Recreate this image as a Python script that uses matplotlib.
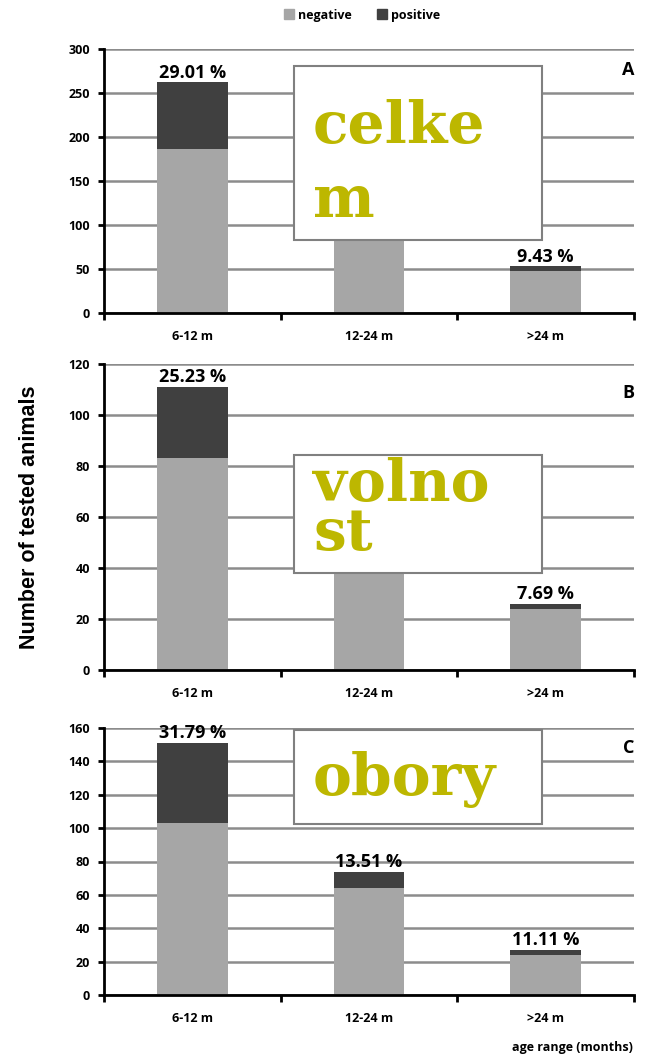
import numpy as np
import matplotlib
matplotlib.use("Agg")
import matplotlib.pyplot as plt
import matplotlib.patches as mpatches

# age classes
categories = ['6-12 m', '12-24 m', '>24 m']

# number of tested animals per panel (negative / positive)
neg_A = [186, 116, 48]
pos_A = [76, 18, 5]
neg_B = [83, 52, 24]
pos_B = [28, 8, 2]
neg_C = [103, 64, 24]
pos_C = [48, 10, 3]

# which percentage labels are visible (others sit under the white box)
show_A = [True, False, True]
show_B = [True, False, True]
show_C = [True, True, True]

panel_names = ['A', 'B', 'C']
box_words = ['celke\nm', 'volno\nst', 'obory']
y_max = [300, 120, 160]
y_step = [50, 20, 20]

W, H = 655, 1064
fig = plt.figure(figsize=(W / 100, H / 100), dpi=100)

c_neg = '#a6a6a6'
c_pos = '#404040'
c_grid = '#8c8c8c'

def px_rect(x0, y0, x1, y1):
    # pixel box (top-left origin) -> figure fraction
    return [x0 / W, 1 - y1 / H, (x1 - x0) / W, (y1 - y0) / H]

axes_px = [(104, 49, 634, 313), (104, 364, 634, 670), (104, 728, 634, 995)]
boxes_px = [(294, 66, 542, 240), (294, 455, 542, 573), (294, 730, 542, 824)]
last_baseline = [217, 550, 795]
line_sp = [1.42, 0.85, 1.0]
letter_y = [70, 393, 748]

data = [(neg_A, pos_A, show_A), (neg_B, pos_B, show_B), (neg_C, pos_C, show_C)]
x = np.arange(len(categories))

for i, (neg, pos, show) in enumerate(data):
    ax = fig.add_axes(px_rect(*axes_px[i]))
    neg = np.array(neg)
    pos = np.array(pos)
    tot = neg + pos
    ax.bar(x, neg, width=0.4, color=c_neg, zorder=2)
    ax.bar(x, pos, width=0.4, bottom=neg, color=c_pos, zorder=2)
    for xi, t, p, s in zip(x, tot, pos, show):
        if s:
            ax.text(xi, t + y_max[i] * 0.003, f'{100 * p / t:.2f} %', ha='center', va='bottom',
                    family='Open Sans', weight='bold', fontsize=13, zorder=3)

    ax.set_xlim(-0.5, 2.5)
    ax.set_ylim(0, y_max[i])
    ax.set_yticks(np.arange(0, y_max[i] + 1, y_step[i]))
    ax.yaxis.grid(True, color=c_grid, lw=1.8)
    ax.set_axisbelow(True)

    ax.set_xticks([-0.5, 0.5, 1.5, 2.5])
    ax.set_xticklabels([])
    ax.set_xticks(x, minor=True)
    ax.set_xticklabels(categories, minor=True)
    ax.tick_params(axis='x', which='major', direction='out', length=5, width=2, color='black')
    ax.tick_params(axis='x', which='minor', length=0, pad=12)
    ax.tick_params(axis='y', direction='out', length=4, width=2, pad=6)
    for lab in ax.get_xticklabels(minor=True) + ax.get_yticklabels():
        lab.set_fontfamily('Open Sans')
        lab.set_fontweight('bold')
        lab.set_fontsize(9)

    for s in ['top', 'right']:
        ax.spines[s].set_visible(False)
    for s in ['left', 'bottom']:
        ax.spines[s].set_linewidth(2)
        ax.spines[s].set_color('black')

    # panel letter
    fig.text(634 / W, 1 - letter_y[i] / H, panel_names[i], ha='right', va='center',
             family='Open Sans', weight='bold', fontsize=13)

    # white overlay box with word
    bx = boxes_px[i]
    r = px_rect(*bx)
    fig.patches.append(mpatches.Rectangle(r[:2], r[2], r[3], transform=fig.transFigure,
                                          facecolor='white', edgecolor='#808080', lw=1.5, zorder=5))
    fig.text(313 / W, 1 - last_baseline[i] / H, box_words[i], ha='left', va='baseline',
             linespacing=line_sp[i], family='DejaVu Serif', weight='bold', fontsize=42,
             color='#bdb700', zorder=6)

fig.text(30 / W, 1 - 517 / H, 'Number of tested animals', rotation=90, ha='center', va='center',
         family='Liberation Sans', weight='bold', fontsize=15.5)
fig.text(633 / W, 1 - 1047 / H, 'age range (months)', ha='right', va='center',
         family='Open Sans', weight='bold', fontsize=9)

handles = [mpatches.Patch(color=c_neg, label='negative'), mpatches.Patch(color=c_pos, label='positive')]
fig.legend(handles=handles, loc='center', bbox_to_anchor=(362 / W, 1 - 15 / H), ncol=2,
           frameon=False, handlelength=0.8, handleheight=0.8, handletextpad=0.3,
           columnspacing=2.0, prop=dict(family='Open Sans', weight='bold', size=9))

fig.savefig('out.png', dpi=100)
